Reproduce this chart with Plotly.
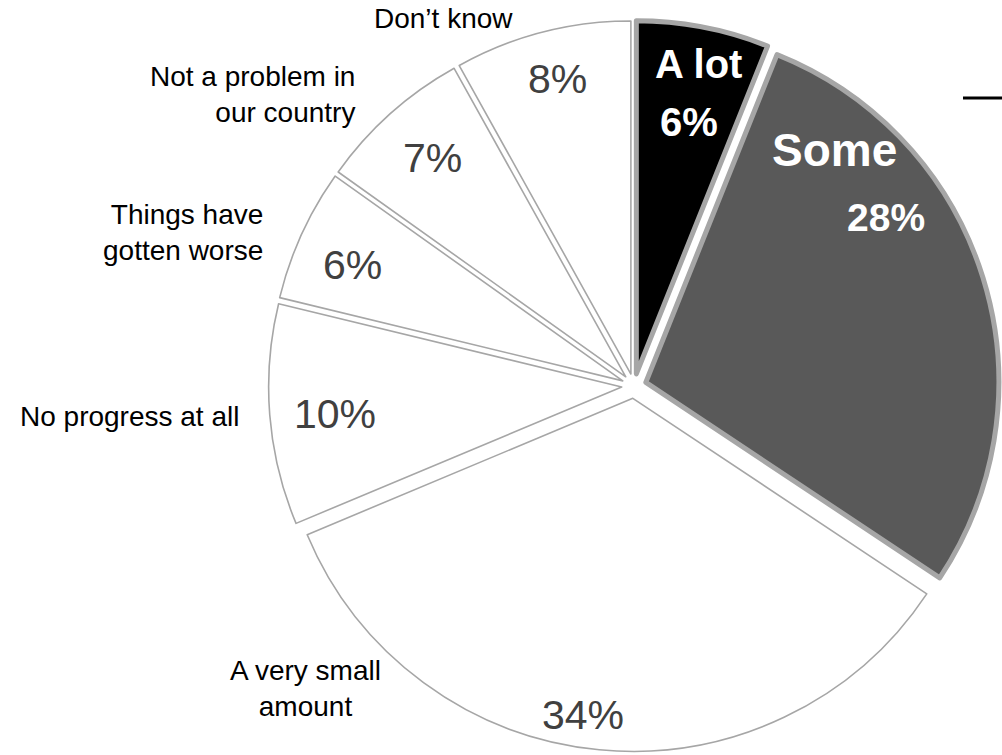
import plotly.graph_objects as go

# Survey answers, clockwise from 12 o'clock
categories = ["A lot", "Some", "A very small amount", "No progress at all",
              "Things have gotten worse", "Not a problem in our country", "Don’t know"]
shares = [6, 28, 34, 10, 6, 7, 8]

# Outside category captions (with line breaks as drawn)
captions = ["A lot", "Some", "A very small<br>amount", "No progress at all",
            "Things have<br>gotten worse", "Not a problem in<br>our country", "Don’t know"]

W, H = 1002, 755
FONT = "Liberation Sans, Arial, Helvetica, sans-serif"

fill_colors = ["#000000", "#595959", "#ffffff", "#ffffff", "#ffffff", "#ffffff", "#ffffff"]
edge_widths = [5, 5, 1.6, 1.6, 1.6, 1.6, 1.6]
pulls = [0.035] * len(shares)

fig = go.Figure(go.Pie(
    labels=categories,
    values=shares,
    sort=False,
    direction="clockwise",
    rotation=0,
    pull=pulls,
    textinfo="none",
    hoverinfo="label+percent",
    marker=dict(colors=fill_colors, line=dict(color="#a6a6a6", width=edge_widths)),
    domain=dict(x=[268.6 / W, 999.4 / W], y=[0, 738 / H]),
    showlegend=False,
))


def px(x, y):
    return x / W, 1 - y / H


annotations = []

# Percent labels inside the white slices
pct_pos = {
    "A very small amount": (583, 715),
    "No progress at all": (335, 414),
    "Things have gotten worse": (352, 265),
    "Not a problem in our country": (432, 158),
    "Don’t know": (557, 79),
}
for cat, val in zip(categories, shares):
    if cat in pct_pos:
        x, y = px(*pct_pos[cat])
        annotations.append(dict(
            x=x, y=y, xref="paper", yref="paper", text=f"{val}%", showarrow=False,
            xanchor="center", yanchor="middle",
            font=dict(family=FONT, size=41, color="#404040")))

# Bold white labels in the two dark slices
dark = {
    "A lot": dict(name_pos=(698, 64), name_size=40, pct_pos=(689, 122), pct_size=40),
    "Some": dict(name_pos=(834, 150), name_size=46, pct_pos=(886, 217), pct_size=39),
}
for cat, val in zip(categories, shares):
    if cat in dark:
        d = dark[cat]
        x, y = px(*d["name_pos"])
        annotations.append(dict(
            x=x, y=y, xref="paper", yref="paper", text=f"<b>{cat}</b>", showarrow=False,
            xanchor="center", yanchor="middle",
            font=dict(family=FONT, size=d["name_size"], color="#ffffff")))
        x, y = px(*d["pct_pos"])
        annotations.append(dict(
            x=x, y=y, xref="paper", yref="paper", text=f"<b>{val}%</b>", showarrow=False,
            xanchor="center", yanchor="middle",
            font=dict(family=FONT, size=d["pct_size"], color="#ffffff")))

# Category captions outside the pie
cap_pos = {
    "Don’t know": ((443, 19), "center"),
    "Not a problem in our country": ((357, 94), "right"),
    "Things have gotten worse": ((265, 232), "right"),
    "No progress at all": ((18, 416), "left"),
    "A very small amount": ((305, 688), "center"),
}
for cat, cap in zip(categories, captions):
    if cat in cap_pos:
        (cx, cy), anchor = cap_pos[cat]
        x, y = px(cx, cy)
        annotations.append(dict(
            x=x, y=y, xref="paper", yref="paper", text=cap, showarrow=False,
            xanchor=anchor, yanchor="middle", align=anchor if anchor != "center" else "center",
            font=dict(family=FONT, size=28, color="#000000")))

fig.update_layout(
    width=W, height=H,
    margin=dict(l=0, r=0, t=0, b=0),
    paper_bgcolor="#ffffff",
    plot_bgcolor="#ffffff",
    annotations=annotations,
    shapes=[dict(type="line", xref="paper", yref="paper",
                 x0=963 / W, x1=1.0, y0=1 - 98 / H, y1=1 - 98 / H,
                 line=dict(color="#000000", width=3))],
)

fig.write_html("out.html")
